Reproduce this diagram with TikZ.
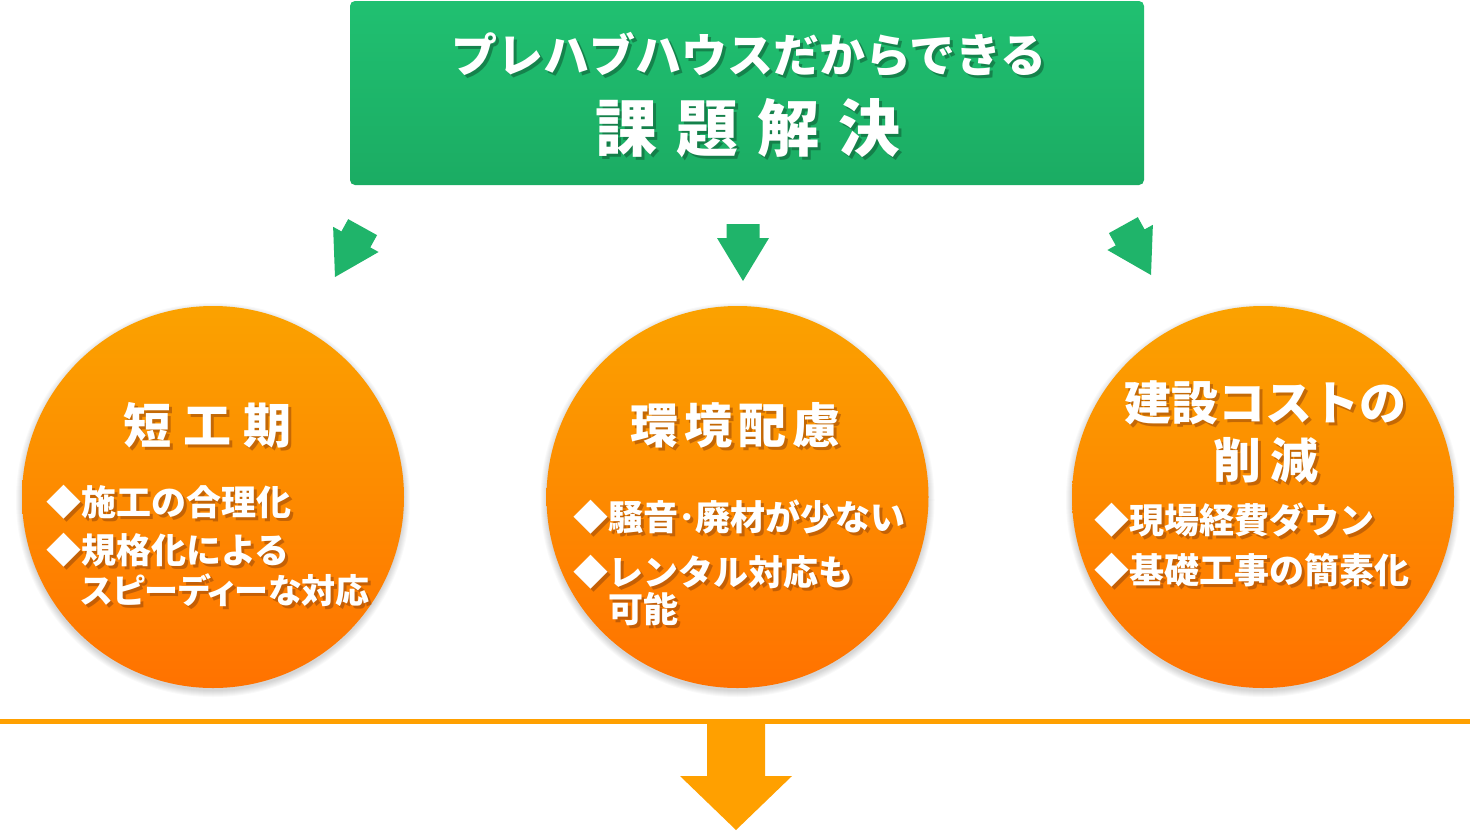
\documentclass[tikz,border=0pt]{standalone}
\usepackage{fontspec}
\newfontfamily\jp{Noto Sans CJK JP}
\newfontfamily\jpp{Noto Sans CJK JP}[RawFeature=+palt]
\usetikzlibrary{calc}
\definecolor{gtop}{RGB}{32,192,113}
\definecolor{gbot}{RGB}{27,172,99}
\definecolor{agreen}{RGB}{31,180,106}
\definecolor{otop}{RGB}{251,162,0}
\definecolor{obot}{RGB}{255,114,0}
\definecolor{oline}{RGB}{255,160,0}
\definecolor{gshadow}{RGB}{15,95,55}
\definecolor{oshadow}{RGB}{150,70,10}
\newcommand\shtxt[4]{%
  \node[#3, shadowtext, xshift=3pt, yshift=-3pt] (#1-s) at (#2) {#4};
  \node[#3, text=white] (#1) at (#2) {#4};}
\newcommand\fs[2]{\fontsize{#1}{#2}\selectfont}
\tikzset{
  x=1pt, y=-1pt,
  txt/.style={font=\jp\bfseries, inner sep=0pt, outer sep=0pt},
  shadowtext/.style={text=oshadow, text opacity=0.55},
  greenbox/.style={rectangle, rounded corners=5pt, top color=gtop, bottom color=gbot,
     minimum width=794pt, minimum height=184pt, inner sep=0pt},
  orangecirc/.style={circle, top color=otop, bottom color=obot, minimum size=382pt, inner sep=0pt},
  garrow/.pic={\fill[agreen] (0,0) -- (26,-43) -- (16.5,-43) -- (16.5,-57) -- (-16.5,-57) -- (-16.5,-43) -- (-26,-43) -- cycle;},
}
\begin{document}
\begin{tikzpicture}
\useasboundingbox (0,0) rectangle (1470,831);
\fill[white] (0,0) rectangle (1470,831);

% top box
\node[greenbox] (top) at (747,93) {};
\begin{scope}[shadowtext/.style={text=gshadow, text opacity=0.6}]
\shtxt{t1}{749,55}{txt, font=\jp\bfseries\fs{46}{50}}{プレハブハウスだからできる}
\shtxt{t2}{748,128}{txt, font=\jp\bfseries\fs{62}{66}}{課\hspace{19pt}題\hspace{19pt}解\hspace{19pt}決}
\end{scope}

% green arrows
\pic (al) [rotate=-29] at (335,277) {garrow};
\pic (am) at (743,281) {garrow};
\pic (ar) [rotate=29] at (1151,275) {garrow};

% circle shadows
\foreach \c in {213,737.5,1263}{
  \foreach \i in {1,...,7}{
    \fill[black, opacity=0.022] (\c,500) circle (190+\i);
  }
}
\node[orangecirc] (c1) at (213,497) {};
\node[orangecirc] (c2) at (737.5,497) {};
\node[orangecirc] (c3) at (1263,497) {};

% left circle
\shtxt{h1}{207,425}{txt, font=\jp\bfseries\fs{48}{52}}{短\hspace{12pt}工\hspace{12pt}期}
\shtxt{b11}{46,502}{txt, anchor=west, font=\jp\bfseries\fs{35}{40}}{◆施工の合理化}
\shtxt{b12}{46,570}{txt, anchor=west, align=left, font=\jp\bfseries\fs{35}{40}}{◆規格化による\\\phantom{◆}\jpp\bfseries\fs{34}{40}スピーディーな対応}

% middle circle
\shtxt{h2}{735,425}{txt, font=\jp\bfseries\fs{48}{52}}{環\hspace{6pt}境\hspace{6pt}配\hspace{6pt}慮}
\shtxt{b21}{573,517}{txt, anchor=west, font=\jp\bfseries\fs{35}{40}}{◆騒音･廃材が少ない}
\shtxt{b22}{573,591}{txt, anchor=west, align=left, font=\jp\bfseries\fs{35}{37}}{◆レンタル対応も\\\phantom{◆}可能}

% right circle
\shtxt{h3}{1265,403}{txt, font=\jp\bfseries\fs{47}{50}}{建設コストの}
\shtxt{h3b}{1266,460}{txt, font=\jp\bfseries\fs{48}{52}}{削\hspace{10pt}減}
\shtxt{b31}{1094,520}{txt, anchor=west, font=\jp\bfseries\fs{35}{40}}{◆現場経費ダウン}
\shtxt{b32}{1094,570}{txt, anchor=west, font=\jp\bfseries\fs{35}{40}}{◆基礎工事の簡素化}

% bottom line and arrow
\coordinate (lL) at (0,721);
\coordinate (lR) at (1470,721);
\draw[oline, line width=5pt] (lL) -- (lR);
\coordinate (tip) at (736,830);
\fill[oline] (707,721) -- (765,721) -- (765,776) -- (792,776) -- (tip) -- (680,776) -- (707,776) -- cycle;
\end{tikzpicture}
\end{document}
